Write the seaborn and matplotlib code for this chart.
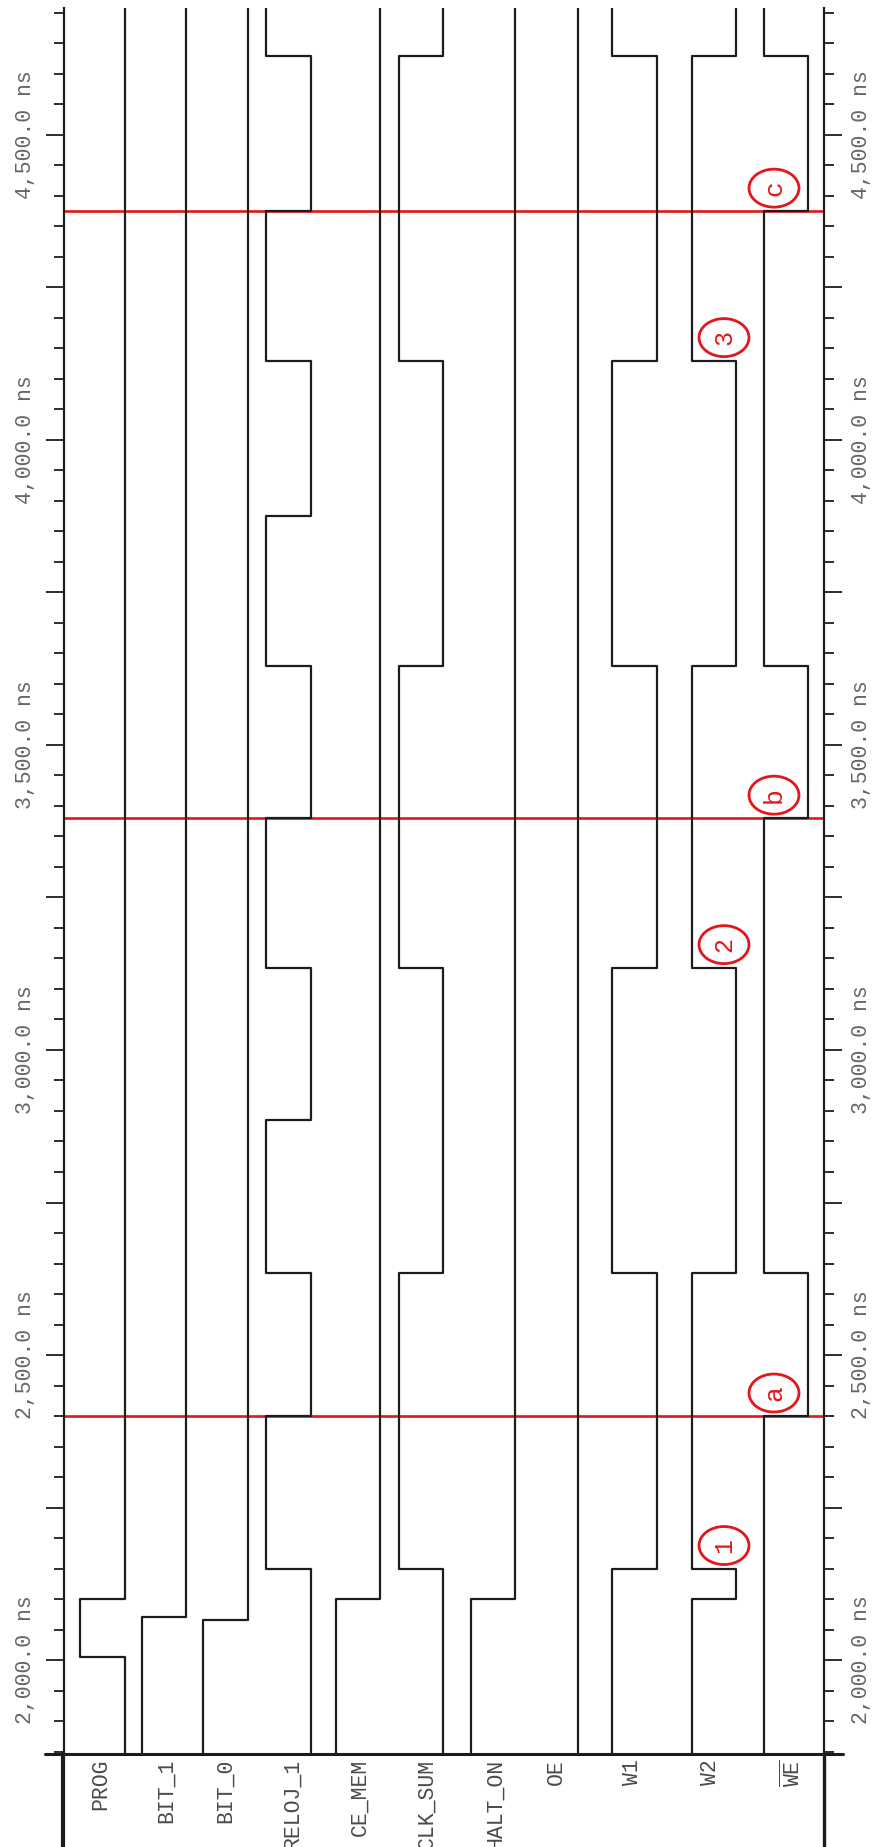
import matplotlib
matplotlib.use("Agg")
import matplotlib.pyplot as plt
from matplotlib.patches import Ellipse
from matplotlib.lines import Line2D
from matplotlib.ticker import MultipleLocator, FuncFormatter
import pandas as pd
import seaborn as sns

# ---- signal data (times in ns) ----
signals = ["PROG", "BIT_1", "BIT_0", "RELOJ_1", "CE_MEM", "CLK_SUM",
           "HALT_ON", "OE", "W1", "W2", "WE"]
initial_levels = [0, 1, 1, 0, 1, 0, 1, 0, 1, 1, 1]

prog_edges = [2005, 2100]
bit1_edges = [2070]
bit0_edges = [2065]
reloj1_edges = [2150, 2400, 2635, 2885, 3135, 3380, 3630, 3875, 4130, 4375, 4630]
ce_mem_edges = [2100]
clk_sum_edges = [2150, 2635, 3135, 3630, 4130, 4630]
halt_on_edges = [2100]
oe_edges = []
w1_edges = [2150, 2635, 3135, 3630, 4130, 4630]
w2_edges = [2100, 2150, 2635, 3135, 3630, 4130, 4630]
we_edges = [2400, 2635, 3380, 3630, 4375, 4630]

all_edges = [prog_edges, bit1_edges, bit0_edges, reloj1_edges, ce_mem_edges,
             clk_sum_edges, halt_on_edges, oe_edges, w1_edges, w2_edges, we_edges]

cursor_times = [2400, 3380, 4375]
cursor_tags = ["a", "b", "c"]
marker_times = [2150, 3135, 4130]
marker_tags = ["1", "2", "3"]

t_start, t_end = 1846, 4708

# ---- layout (pixels on an 881 x 1847 canvas) ----
W, H = 881, 1847
plot_left, plot_right = 63.5, 824.0
plot_bottom_px, plot_top_px = 1754, 8          # measured from the top edge
lane_centers = [102.5, 164, 225.5, 288.5, 358, 421, 493, 556, 634.5, 714, 786]
label_x = [101, 166, 225, 292, 360, 427, 495, 556, 632, 711, 793]
half_swing = 22.3
px_per_ns = (plot_bottom_px - plot_top_px) / (t_end - t_start)

BLACK = "#1c1c1c"
RED = "#e3161b"
GREY = "#666666"

sns.set_theme(style="white")
plt.rcParams["font.family"] = ["Liberation Mono", "DejaVu Sans Mono"]
plt.rcParams["mathtext.fontset"] = "custom"
plt.rcParams["mathtext.rm"] = "Liberation Mono"

# build step traces: high level on the left of each lane, low level on the right
rows = []
for name, lvl, edges, c in zip(signals, initial_levels, all_edges, lane_centers):
    pts = [(t_start, lvl)]
    for e in edges:
        pts.append((e, lvl))
        lvl = 1 - lvl
        pts.append((e, lvl))
    pts.append((t_end, lvl))
    for t, v in pts:
        rows.append({"signal": name, "t": t, "x": c + half_swing * (1 - 2 * v)})
wave = pd.DataFrame(rows)

fig = plt.figure(figsize=(W / 100, H / 100), dpi=100)
fig.patch.set_facecolor("white")
ax = fig.add_axes([plot_left / W, (H - plot_bottom_px) / H,
                   (plot_right - plot_left) / W, (plot_bottom_px - plot_top_px) / H])
ax.set_facecolor("white")

# cursors
for t in cursor_times:
    ax.axhline(t, color=RED, lw=1.9, zorder=1)

sns.lineplot(data=wave, x="x", y="t", units="signal", estimator=None, sort=False,
             orient="y", color=BLACK, linewidth=1.6, legend=False, ax=ax, zorder=3)

ax.set_xlim(plot_left, plot_right)
ax.set_ylim(t_start, t_end)
ax.set_xlabel("")
ax.set_ylabel("")
ax.set_xticks([])

# time axis on both sides
ax.yaxis.set_major_locator(MultipleLocator(250))
ax.yaxis.set_minor_locator(MultipleLocator(50))
ax.yaxis.set_major_formatter(FuncFormatter(
    lambda v, _: f"{v:,.1f} ns" if abs(v % 500) < 1e-6 else ""))
ax.tick_params(axis="y", which="major", length=18 * 0.72, width=1.3, color=BLACK,
               left=True, right=True, labelleft=True, labelright=True,
               labelrotation=90, pad=6.5, labelsize=15.5, labelcolor=GREY)
ax.tick_params(axis="y", which="minor", length=10 * 0.72, width=1.3, color=BLACK,
               left=True, right=True)
for tk in ax.yaxis.get_major_ticks():
    tk.label1.set_va("center")
    tk.label2.set_va("center")

for side in ["top", "bottom"]:
    ax.spines[side].set_visible(False)
for side in ["left", "right"]:
    ax.spines[side].set_color(BLACK)
    ax.spines[side].set_linewidth(1.6)

# circled tags
ell_w = 50
ell_h = 38 / px_per_ns
tag_shift = 23 / px_per_ns
for t, tag in zip(marker_times, marker_tags):
    yc = t + tag_shift
    ax.add_patch(Ellipse((724, yc), ell_w, ell_h, fill=False, ec=RED, lw=2.0, zorder=4))
    ax.text(724, yc, tag, rotation=90, color=RED, fontsize=18, ha="center",
            va="center", zorder=5)
for t, tag in zip(cursor_times, cursor_tags):
    yc = t + tag_shift
    ax.add_patch(Ellipse((774, yc), ell_w, ell_h, fill=False, ec=RED, lw=2.0, zorder=4))
    ax.text(774, yc, tag, rotation=90, color=RED, fontsize=19, ha="center",
            va="center", zorder=5)

# signal name panel
def fx(px):
    return px / W

def fy(py):
    return (H - py) / H

fig.add_artist(Line2D([fx(45), fx(843)], [fy(plot_bottom_px)] * 2, color=BLACK, lw=2.2))
fig.add_artist(Line2D([fx(62.5)] * 2, [fy(plot_bottom_px), fy(H + 2)], color=BLACK, lw=3.0))
fig.add_artist(Line2D([fx(824)] * 2, [fy(plot_bottom_px), fy(H + 2)], color=BLACK, lw=2.4))

for name, x in zip(signals, label_x):
    txt = r"$\overline{\mathrm{WE}}$" if name == "WE" else name
    fig.text(fx(x), fy(1759), txt, rotation=90, rotation_mode="anchor",
             ha="right", va="center", fontsize=15.5, color="#4a4a4a")

fig.savefig("out.png", dpi=100, facecolor="white")
